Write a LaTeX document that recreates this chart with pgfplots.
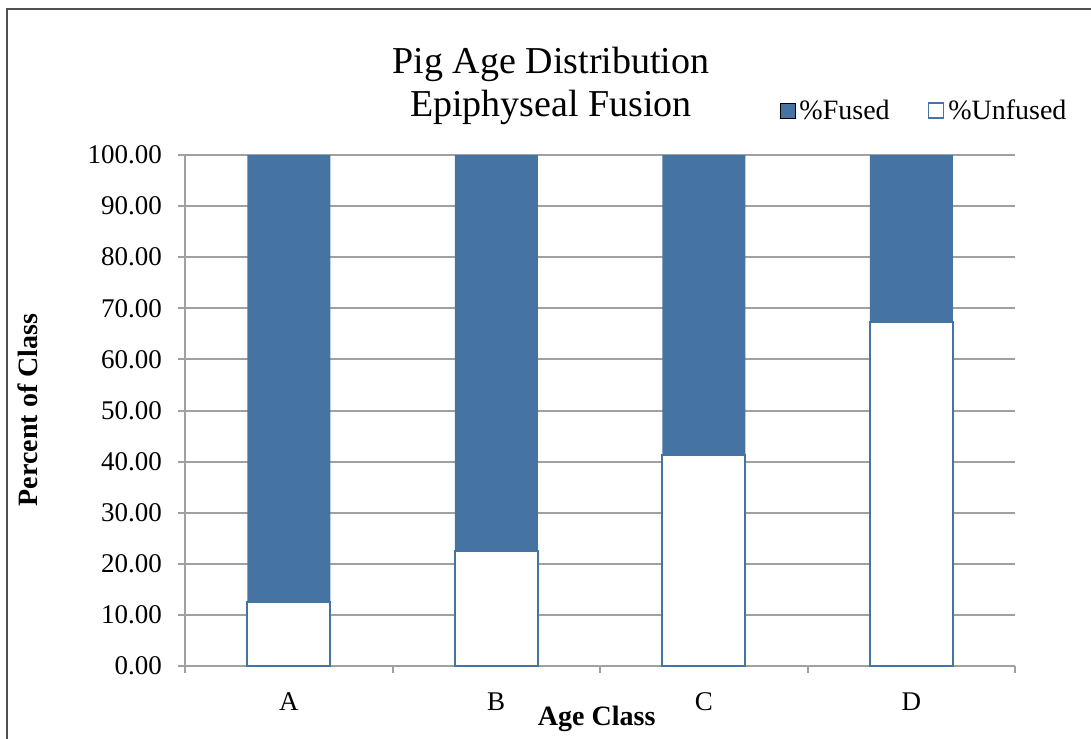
\documentclass[border=0pt]{standalone}
\usepackage{fontspec}
\setmainfont{Liberation Serif}
\usepackage{pgfplots}
\pgfplotsset{compat=1.18}
\definecolor{fusedblue}{RGB}{70,116,162}
\definecolor{gridgray}{RGB}{160,160,160}
\definecolor{framegray}{RGB}{80,80,80}
\pgfplotsset{
  square legend/.style={
    legend image code/.code={\draw[##1] (0pt,-3.5pt) rectangle (7.5pt,4pt);}},
}

\begin{document}
\begin{tikzpicture}
% picture in reference pixels, 1px = 0.5pt
\begin{scope}[x=0.5pt,y=-0.5pt]
  \useasboundingbox (0,0) rectangle (1091,735);
  \draw[framegray, line width=1pt] (7,745) -- (7,9) -- (1100,9);
\end{scope}

\begin{axis}[
    at={(92.5pt,-333pt)}, anchor=south west,
    scale only axis, width=415pt, height=255.5pt,
    ybar stacked, bar width=0.4,
    xmin=-0.5, xmax=3.5, ymin=0, ymax=100,
    xtick={-0.5,0.5,...,3.5}, xticklabels={},
    extra x ticks={0,1,2,3}, extra x tick labels={A,B,C,D},
    extra x tick style={major tick length=0pt},
    ytick={0,10,...,100},
    yticklabel={\pgfmathprintnumber[fixed,fixed zerofill,precision=2]{\tick}},
    /pgf/number format/assume math mode=true,
    ymajorgrids, grid style={gridgray, line width=1pt},
    axis x line*=bottom, axis y line*=left,
    axis line style={gridgray, line width=1pt},
    tick align=outside, major tick length=3.5pt,
    tick style={gridgray, line width=1pt},
    tick label style={font=\fontsize{13.5}{16}\selectfont, black},
    xticklabel style={yshift=-10pt},
    yticklabel style={xshift=-4.5pt},
    title={Pig Age Distribution\\Epiphyseal Fusion},
    title style={at={(0.441,1.112)}, anchor=center, align=center,
        font=\fontsize{19}{21.5}\selectfont},
    xlabel={Age Class},
    every axis x label/.style={at={(0.496,-0.104)}, anchor=center,
        font=\bfseries\fontsize{14}{16}\selectfont},
    ylabel={Percent of Class},
    every axis y label/.style={at={(-0.189,0.501)}, anchor=center, rotate=90,
        font=\bfseries\fontsize{14}{16}\selectfont},
    legend style={at={(0.716,1.086)}, anchor=west, draw=none, fill=none,
        inner sep=0pt, font=\fontsize{14}{16}\selectfont,
        nodes={inner sep=2pt},
        /tikz/every even column/.append style={column sep=17pt}},
    legend columns=2, reverse legend,
]
\addplot[fill=white, draw=fusedblue, line width=0.8pt, square legend]
    coordinates {(0,12.5) (1,22.5) (2,41.3) (3,67.3)};
\addplot[fill=fusedblue, draw=none, square legend]
    coordinates {(0,87.5) (1,77.5) (2,58.7) (3,32.7)};
\legend{\%Unfused,\%Fused}
\end{axis}
\end{tikzpicture}
\end{document}
